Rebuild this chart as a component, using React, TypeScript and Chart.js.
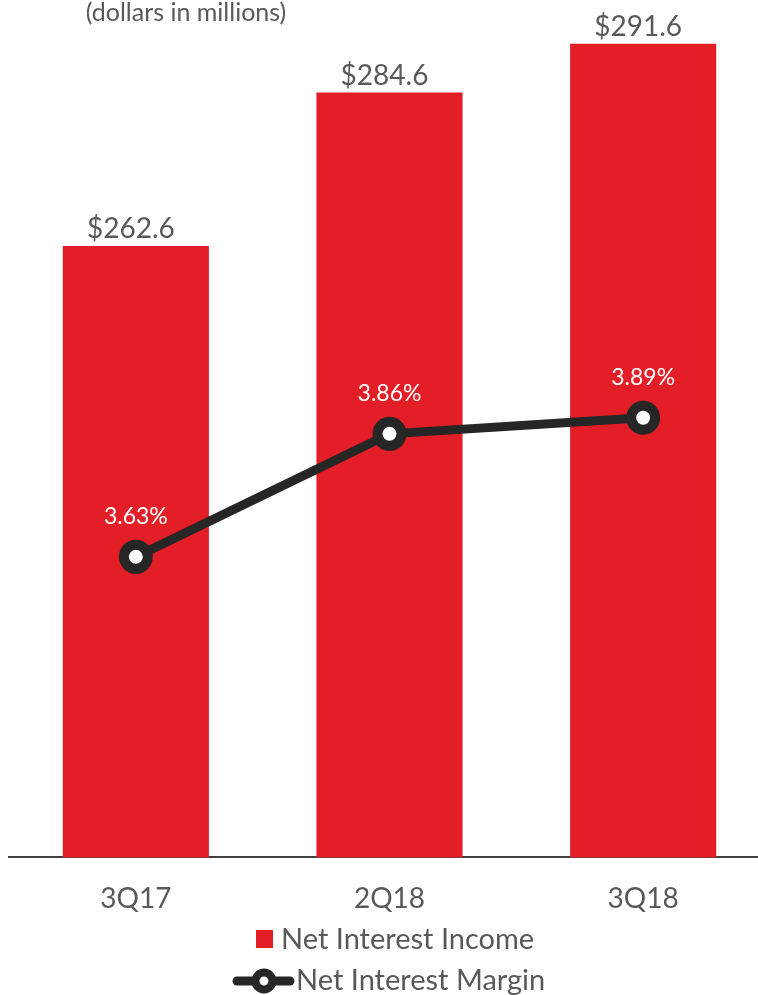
import React, { useEffect, useRef } from "react";
import { Chart, registerables } from "chart.js";

Chart.register(...registerables);

const categories = ["3Q17", "2Q18", "3Q18"];
const netInterestIncome = [262.6, 284.6, 291.6];
const netInterestMargin = [3.63, 3.86, 3.89];
const incomeLabels = ["$262.6", "$284.6", "$291.6"];
const marginLabels = ["3.63%", "3.86%", "3.89%"];
const legendNames = ["Net Interest Income", "Net Interest Margin"];
const titleText = "(dollars in millions)";

const RED = "#E41E26";
const DARK = "#262626";
const GRAY = "#595959";
const FONT = "Lato, 'Open Sans', sans-serif";

const overlayPlugin = {
  id: "overlay",
  afterDatasetsDraw(chart: any) {
    const ctx = chart.ctx;
    ctx.save();
    const barMeta = chart.getDatasetMeta(1);
    ctx.font = `28px ${FONT}`;
    ctx.fillStyle = GRAY;
    ctx.textAlign = "center";
    ctx.textBaseline = "alphabetic";
    barMeta.data.forEach((el: any, i: number) => {
      ctx.fillText(incomeLabels[i], el.x - 5, el.y - 8);
    });
    const lineMeta = chart.getDatasetMeta(0);
    ctx.font = `23px ${FONT}`;
    ctx.fillStyle = "#FFFFFF";
    ctx.textBaseline = "middle";
    lineMeta.data.forEach((el: any, i: number) => {
      ctx.fillText(marginLabels[i], el.x, el.y - 40);
    });
    ctx.font = `25px ${FONT}`;
    ctx.fillStyle = GRAY;
    ctx.textAlign = "center";
    ctx.textBaseline = "middle";
    ctx.fillText(titleText, 186, 13);
    ctx.fillStyle = RED;
    ctx.fillRect(256, 930, 17, 18);
    ctx.font = `29px ${FONT}`;
    ctx.fillStyle = GRAY;
    ctx.textAlign = "left";
    ctx.fillText(legendNames[0], 281, 940);
    ctx.strokeStyle = DARK;
    ctx.lineWidth = 9;
    ctx.lineCap = "round";
    ctx.beginPath();
    ctx.moveTo(237, 981);
    ctx.lineTo(290, 981);
    ctx.stroke();
    ctx.beginPath();
    ctx.arc(264, 981, 8.5, 0, Math.PI * 2);
    ctx.fillStyle = "#FFFFFF";
    ctx.fill();
    ctx.lineWidth = 8;
    ctx.stroke();
    ctx.fillStyle = GRAY;
    ctx.fillText(legendNames[1], 296, 981);
    ctx.restore();
  },
};

export default function App() {
  const canvasRef = useRef<HTMLCanvasElement | null>(null);

  useEffect(() => {
    if (!canvasRef.current) return;
    const chart = new Chart(canvasRef.current, {
      type: "bar",
      data: {
        labels: categories,
        datasets: [
          {
            type: "line",
            label: legendNames[1],
            data: netInterestMargin,
            yAxisID: "y2",
            borderColor: DARK,
            borderWidth: 9,
            pointRadius: 12,
            pointBorderWidth: 10,
            pointBackgroundColor: "#FFFFFF",
            pointBorderColor: DARK,
            order: 0,
          } as any,
          {
            type: "bar",
            label: legendNames[0],
            data: netInterestIncome,
            yAxisID: "y",
            backgroundColor: RED,
            categoryPercentage: 1,
            barPercentage: 0.576,
            order: 1,
          },
        ],
      },
      options: {
        animation: false,
        responsive: false,
        maintainAspectRatio: false,
        devicePixelRatio: 1,
        layout: { autoPadding: false, padding: { top: 13, left: 9, right: 0, bottom: 54 } },
        plugins: {
          legend: { display: false },
          tooltip: { enabled: false },
        },
        scales: {
          x: {
            grid: { display: false, drawTicks: false },
            border: { display: true, color: "#404040", width: 2 },
            ticks: {
              color: GRAY,
              font: { family: FONT, size: 28 },
              padding: 25,
            },
          },
          y: { display: false, min: 175, max: 296 },
          y2: { display: false, min: 3.068, max: 4.647 },
        },
      },
      plugins: [overlayPlugin],
    });
    return () => chart.destroy();
  }, []);

  return (
    <div
      style={{
        position: "absolute",
        left: 0,
        top: 0,
        width: 758,
        height: 995,
        overflow: "hidden",
        background: "#FFFFFF",
      }}
    >
      <canvas
        ref={canvasRef}
        width={770}
        height={995}
        style={{ display: "block", width: 770, height: 995 }}
      />
    </div>
  );
}
